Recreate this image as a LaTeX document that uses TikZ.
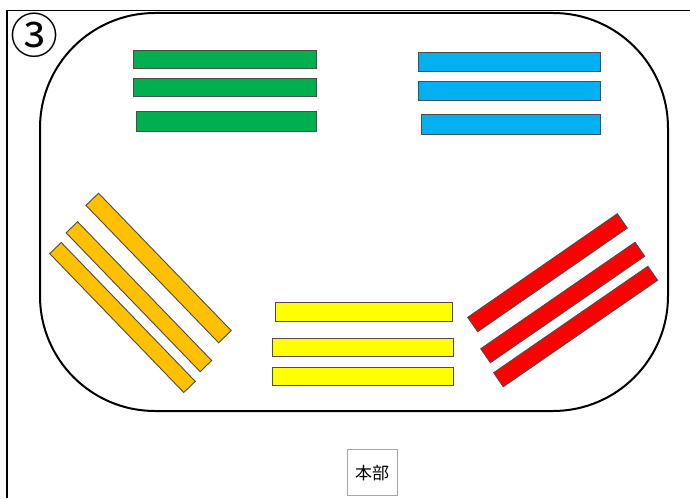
\documentclass[tikz,border=0pt]{standalone}
\usepackage{fontspec}
\newfontfamily\jpfont{Noto Sans CJK JP}
\usepackage{xcolor}
\usepackage{tikz}
\usetikzlibrary{positioning}

\definecolor{grnbar}{HTML}{00B050}
\definecolor{blubar}{HTML}{00B0F0}
\definecolor{orgbar}{HTML}{FFC000}
\definecolor{redbar}{HTML}{FF0000}
\definecolor{ylwbar}{HTML}{FFFF00}

\begin{document}
\begin{tikzpicture}[
  x=1pt, y=1pt,
  bar/.style={
    rectangle,
    draw=black!70,
    line width=0.9pt,
    fill=#1,
    inner sep=0pt,
    minimum width=182pt,
    minimum height=18pt
  },
  hq/.style={
    rectangle,
    draw=black!35,
    line width=0.9pt,
    minimum width=50pt,
    minimum height=46pt,
    font=\jpfont\fontsize{17}{20}\selectfont
  }
]
\useasboundingbox (0,0) rectangle (690,498);
% outer frame and track
\draw[line width=1.3pt] (7,0) -- (7,487.5) -- (690,487.5);
\draw[line width=2pt, rounded corners=115pt] (40,87) rectangle (668,485);
\node[font=\jpfont\fontsize{48}{48}\selectfont, inner sep=0pt] (num) at (34.5,462.5) {③};
% green group
\node[bar=grnbar, minimum width=183pt] (grn1) at (224.5,438.8) {};
\node[bar=grnbar, minimum width=183pt] (grn2) at (224.5,410.5) {};
\node[bar=grnbar, minimum width=180pt, minimum height=20pt] (grn3) at (226,376.3) {};
% blue group
\node[bar=blubar, minimum height=18.5pt] (blu1) at (509.9,436.1) {};
\node[bar=blubar, minimum height=19pt] (blu2) at (509.9,407.5) {};
\node[bar=blubar, minimum width=179pt, minimum height=20pt] (blu3) at (511.4,374) {};
% yellow group
\node[bar=ylwbar, minimum width=177pt, minimum height=19pt] (ylw1) at (364,186) {};
\node[bar=ylwbar, minimum width=181pt] (ylw2) at (363.4,150.1) {};
\node[bar=ylwbar, minimum width=181pt] (ylw3) at (363.4,121.8) {};
% orange group
\node[bar=orgbar, minimum width=191pt, minimum height=17.5pt, rotate=-46] (org1) at (158.6,230) {};
\node[bar=orgbar, minimum width=193pt, minimum height=16pt, rotate=-46] (org2) at (138.9,201.3) {};
\node[bar=orgbar, minimum width=193pt, minimum height=16pt, rotate=-46] (org3) at (122.5,180.5) {};
% red group
\node[bar=redbar, minimum width=182pt, minimum height=17.5pt, rotate=34.7] (red1) at (547.5,225.3) {};
\node[bar=redbar, minimum width=187.5pt, minimum height=17pt, rotate=34.6] (red2) at (562.7,195.5) {};
\node[bar=redbar, minimum width=187.5pt, minimum height=17pt, rotate=34.6] (red3) at (575.6,171.5) {};
% headquarters
\node[hq] (hq) at (372,25.1) {本部};
\end{tikzpicture}
\end{document}
